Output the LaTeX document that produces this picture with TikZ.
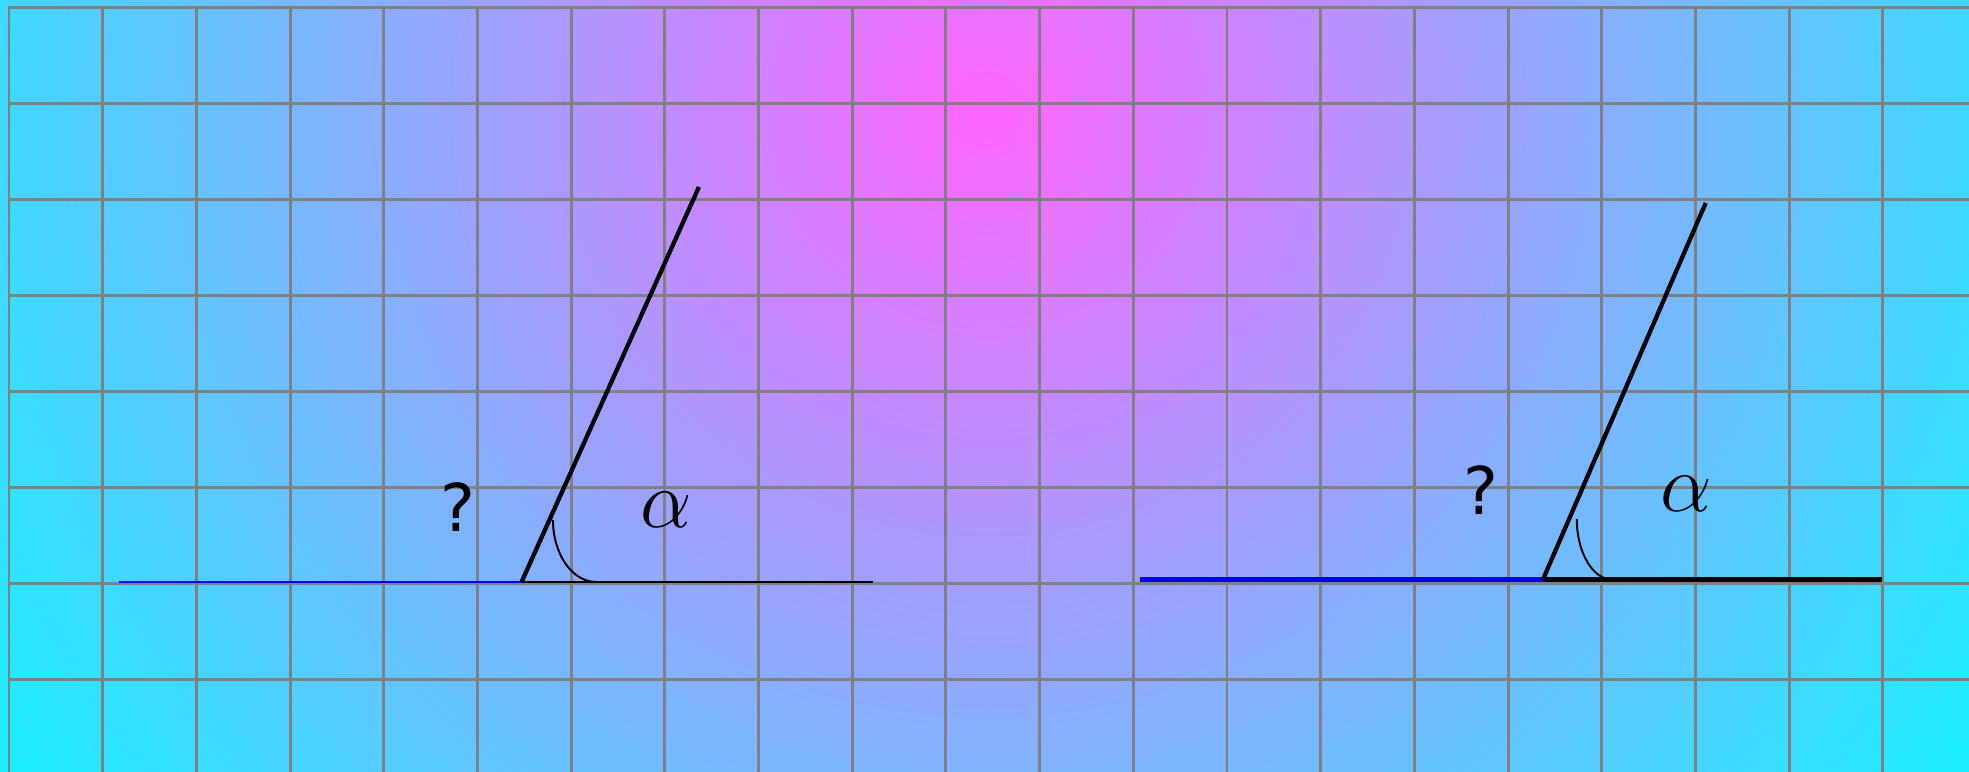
\documentclass[tikz,border=0pt]{standalone}
\usepackage{fontspec}
\usepackage{xcolor}
\usepackage{tikz}
\newfontfamily\qfont{DejaVu Sans}
\definecolor{bgcenter}{RGB}{255,102,255}
\definecolor{bgedge}{RGB}{25,240,255}
\definecolor{gridgray}{RGB}{128,128,128}
\tikzset{
  gridline/.style={draw=gridgray, line width=0.9pt, line cap=rect},
  thinside/.style={line width=0.6pt},
  thickside/.style={line width=1.5pt},
  ray/.style={line width=1.3pt},
  anglearc/.style={line width=0.6pt},
  qmark/.style={font=\qfont\fontsize{20}{24}\selectfont},
  anglabel/.style={font=\Huge}
}
\begin{document}
\begin{tikzpicture}[x=1cm, y=1.0245cm]
\useasboundingbox (-0.096,0.042) rectangle (20.92,8.083);
\clip (-0.096,0.042) rectangle (20.92,8.083);
\fill[bgedge] (-0.096,0.042) rectangle (20.92,8.083);
\shade[inner color=bgcenter, outer color=bgedge] (10.44,6.94) circle[radius=12.7cm];
\foreach \i in {0,...,20}
  \draw[gridline] (\i,0) -- (\i,8);
\foreach \j in {1,...,8}
  \draw[gridline] (0,\j) -- (21.5,\j);

\coordinate (Lstart) at (1.174,2.02);
\coordinate (Lvertex) at (5.471,2.02);
\coordinate (Lend) at (9.22,2.02);
\coordinate (Ltop) at (7.364,6.135);
\coordinate (Larc) at (5.806,2.667);
\draw[thinside, blue] (Lstart) -- (Lvertex);
\draw[thinside] (Lvertex) -- (Lend);
\draw[ray] (Lvertex) -- (Ltop);
\draw[anglearc] (Larc) arc[start angle=180, end angle=270, x radius=0.46, y radius=0.647];
\node[qmark] (Lquestion) at (4.79,2.805) {?};
\node[anglabel] (Lalpha) at (7.02,2.776) {$\alpha$};

\coordinate (Rstart) at (12.07,2.042);
\coordinate (Rvertex) at (16.371,2.042);
\coordinate (Rend) at (19.99,2.042);
\coordinate (Rtop) at (18.11,5.969);
\coordinate (Rarc) at (16.734,2.674);
\draw[thickside, blue] (Rstart) -- (Rvertex);
\draw[thickside] (Rvertex) -- (Rend);
\draw[ray] (Rvertex) -- (Rtop);
\draw[anglearc] (Rarc) arc[start angle=180, end angle=270, x radius=0.385, y radius=0.632];
\node[qmark] (Rquestion) at (15.71,2.974) {?};
\node[anglabel] (Ralpha) at (17.90,2.94) {$\alpha$};
\end{tikzpicture}
\end{document}
